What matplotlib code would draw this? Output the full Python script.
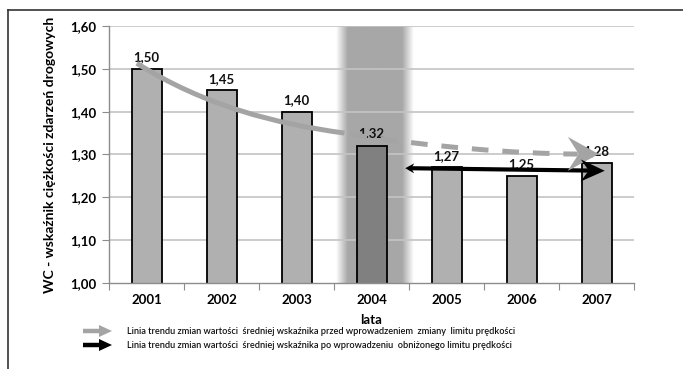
import matplotlib
matplotlib.use("Agg")
import matplotlib.pyplot as plt
from matplotlib.path import Path
from matplotlib.patches import PathPatch, Polygon
from matplotlib.lines import Line2D
import numpy as np

plt.rcParams['font.family'] = ['Lato', 'DejaVu Sans']
plt.rcParams['lines.scale_dashes'] = False

years = ['2001', '2002', '2003', '2004', '2005', '2006', '2007']
wc = [1.50, 1.45, 1.40, 1.32, 1.27, 1.25, 1.28]
wc_labels = ['1,50', '1,45', '1,40', '1.32', '1,27', '1,25', '1,28']
yticks = [1.00, 1.10, 1.20, 1.30, 1.40, 1.50, 1.60]

# trend before the limit change: solid part up to 2003, dashed after
trend_solid = [(-0.13, 1.513), (0.78, 1.413), (1.72, 1.372), (2.64, 1.350)]
trend_dash = [(2.72, 1.347), (3.80, 1.318), (4.90, 1.302), (5.75, 1.301)]
trend_tip = (6.03, 1.301)
# trend after the lower limit was introduced
after_start = (3.45, 1.268)
after_tip = (6.11, 1.262)

legend_txt = [
    'Linia trendu zmian wartości  średniej wskaźnika przed wprowadzeniem  zmiany  limitu prędkości',
    'Linia trendu zmian wartości  średniej wskaźnika po wprowadzeniu  obniżonego limitu prędkości',
]

W, H = 683, 369
fig = plt.figure(figsize=(W / 100, H / 100), dpi=100)
ax = fig.add_axes([109 / W, 1 - 283 / H, 525 / W, 257 / H])
ax.set_xlim(-0.5, 6.5)
ax.set_ylim(1.0, 1.6)

# shaded band around 2004 with soft edges
ramp = np.linspace(0, 1, 200)
prof = np.clip(np.minimum(ramp / 0.15, (1 - ramp) / 0.15), 0, 1)
ax.imshow(prof[None, :], extent=(2.52, 3.56, 1.0, 1.6), aspect='auto',
          cmap=matplotlib.colors.LinearSegmentedColormap.from_list('b', ['#ffffff', '#a7a7a7']),
          vmin=0, vmax=1, zorder=0.5, interpolation='bilinear')

for y in yticks[1:]:
    ax.axhline(y, color='#c4c4c4', lw=1.2, zorder=1)

x = np.arange(len(years))
colors = ['#b0b0b0'] * len(years)
colors[3] = '#808080'
ax.bar(x, wc, width=0.4, bottom=0, color=colors, edgecolor='black', linewidth=1.3, zorder=2)

for xi, v, s in zip(x, wc, wc_labels):
    ax.annotate(s, (xi, v), xytext=(0, 4), textcoords='offset points', ha='center',
                va='bottom', fontsize=9.5, fontweight='bold', color='#111111', zorder=3)

ax.set_xticks(np.arange(-0.5, 7, 1), minor=False)
ax.set_xticklabels([])
ax.set_xticks(x, minor=True)
ax.set_xticklabels(years, minor=True, fontsize=9.5, fontweight='bold')
ax.tick_params(axis='x', which='minor', length=0, pad=8)
ax.tick_params(axis='x', which='major', length=5, color='#8c8c8c', direction='out')
ax.set_yticks(yticks)
ax.set_yticklabels([f'{v:.2f}'.replace('.', ',') for v in yticks], fontsize=9.5,
                   fontweight='bold')
ax.tick_params(axis='y', length=5, color='#8c8c8c', direction='out', pad=4)
for side in ['top', 'right']:
    ax.spines[side].set_visible(False)
for side in ['left', 'bottom']:
    ax.spines[side].set_color('#8c8c8c')
    ax.spines[side].set_linewidth(1.0)

ax.set_ylabel('WC - wskaźnik ciężkości zdarzeń drogowych', fontsize=10,
              fontweight='bold', labelpad=10)
ax.set_xlabel('lata', fontsize=9.5, fontweight='bold', labelpad=6)

gray = '#a4a4a4'
codes = [Path.MOVETO, Path.CURVE4, Path.CURVE4, Path.CURVE4]
ax.add_patch(PathPatch(Path(trend_solid, codes), fill=False, edgecolor=gray, lw=3.6,
                       capstyle='butt', zorder=4))
ax.add_patch(PathPatch(Path(trend_dash, codes), fill=False, edgecolor=gray, lw=3.6,
                       linestyle=(0, (12, 10)), capstyle='butt', zorder=4))

ax.plot([after_start[0] + 0.05, after_tip[0] - 0.2], [after_start[1], after_tip[1] + 0.0005],
        color='black', lw=3.0, solid_capstyle='butt', zorder=5)


def stealth(tip, frm, length, half, notch, color, z):
    # arrow head drawn in pixels so that it keeps its shape
    t = ax.transData.transform(tip)
    f = ax.transData.transform(frm)
    d = (t - f) / np.hypot(*(t - f))
    p = np.array([-d[1], d[0]])
    pts = [t, t - length * d + half * p, t - (length - notch) * d, t - length * d - half * p]
    fig.patches.append(Polygon(pts, closed=True, transform=None, facecolor=color,
                               edgecolor='none', zorder=z, figure=fig))


stealth(trend_tip, trend_dash[2], 31, 17, 11, gray, 6)
stealth(after_tip, after_start, 24, 11, 8, 'black', 6)
stealth(after_start, after_tip, 9, 5, 3, 'black', 6)

# legend rows below the chart
for i, (txt, c) in enumerate(zip(legend_txt, [gray, 'black'])):
    yy = H - (331 + 14 * i)
    fig.add_artist(Line2D([83, 100], [yy, yy], transform=None, color=c, lw=3.2,
                          solid_capstyle='butt'))
    fig.patches.append(Polygon([[112, yy], [99, yy + 6], [99, yy - 6]], closed=True,
                               transform=None, facecolor=c, edgecolor='none', figure=fig))
    fig.text(127 / W, yy / H, txt, fontsize=6.6, va='center', ha='left', color='#111111',
             fontweight='semibold')

# outer frame: top and left edges
fig.add_artist(Line2D([8 / W, 1], [1 - 10 / H, 1 - 10 / H], transform=fig.transFigure,
                      color='#333333', lw=1.2))
fig.add_artist(Line2D([8 / W, 8 / W], [0, 1 - 10 / H], transform=fig.transFigure,
                      color='#333333', lw=1.2))

fig.savefig('out.png', dpi=100)
